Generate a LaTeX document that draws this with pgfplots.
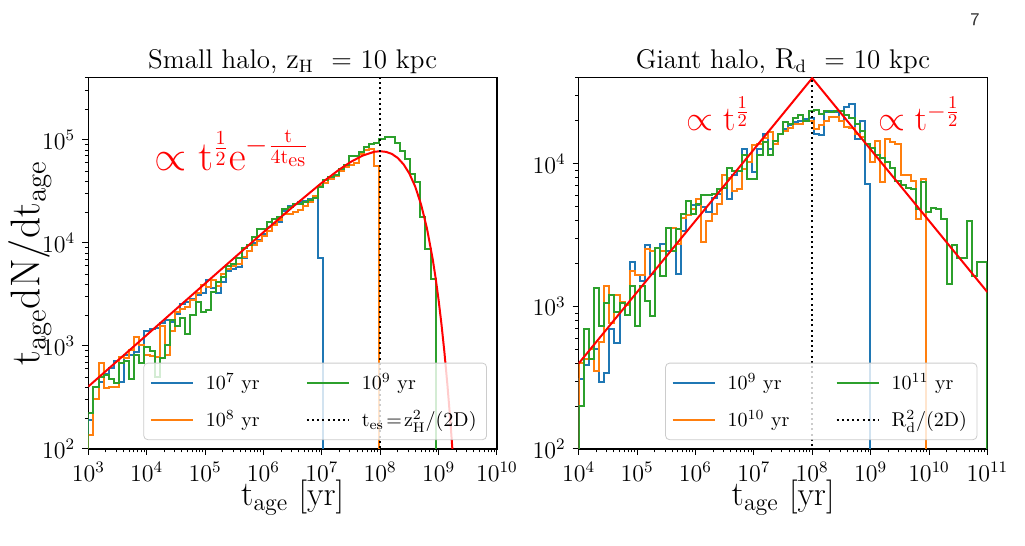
\documentclass[border=0pt]{standalone}
\usepackage{pgfplots}
\pgfplotsset{compat=1.18}
\usepackage{pgfplotstable}
\definecolor{tabblue}{HTML}{1F77B4}
\definecolor{taborange}{HTML}{FF7F0E}
\definecolor{tabgreen}{HTML}{2CA02C}

% all values are log10(t_age/yr) and log10(t_age dN/dt_age)
\pgfplotstableread{
x y
3.0 1
3.0 2.28
3.0875 2.60
3.175 2.65
3.2625 2.73
3.35 2.79
3.4375 2.85
3.525 2.65
3.6125 2.91
3.7 2.91
3.7875 2.94
3.875 3.01
3.9625 3.15
4.05 3.16
4.1375 3.17
4.225 3.22
4.3125 3.25
4.4 3.23
4.4875 3.31
4.575 3.41
4.6625 3.43
4.75 3.46
4.8375 3.49
4.925 3.51
5.0125 3.64
5.1 3.56
5.1875 3.51
5.275 3.62
5.3625 3.73
5.45 3.75
5.5375 3.77
5.625 3.85
5.7125 3.92
5.8 4.00
5.8875 4.03
5.975 4.09
6.0625 4.15
6.15 4.18
6.2375 4.20
6.325 4.31
6.4125 4.36
6.5 4.38
6.5875 4.40
6.675 4.41
6.7625 4.43
6.85 4.44
6.9375 3.85
7.025 3.85
7.025 1
}\lblue

\pgfplotstableread{
x y
3.0 1
3.0 2.14
3.0875 2.49
3.175 2.83
3.2625 2.59
3.35 2.60
3.4375 2.60
3.525 2.89
3.6125 2.88
3.7 2.96
3.7875 3.09
3.875 3.01
3.9625 2.91
4.05 2.90
4.1375 2.89
4.225 3.19
4.3125 2.91
4.4 3.15
4.4875 3.33
4.575 3.36
4.6625 3.38
4.75 3.45
4.8375 3.51
4.925 3.59
5.0125 3.57
5.1 3.64
5.1875 3.58
5.275 3.70
5.3625 3.75
5.45 3.78
5.5375 3.80
5.625 3.86
5.7125 3.92
5.8 3.98
5.8875 4.02
5.975 4.07
6.0625 4.12
6.15 4.17
6.2375 4.22
6.325 4.28
6.4125 4.28
6.5 4.30
6.5875 4.32
6.675 4.36
6.7625 4.40
6.85 4.46
6.9375 4.55
7.025 4.58
7.1125 4.62
7.2 4.65
7.2875 4.70
7.375 4.74
7.4625 4.76
7.55 4.78
7.6375 4.86
7.725 4.90
7.8125 4.91
7.9 4.75
7.9875 4.75
7.9875 1
}\lorange

\pgfplotstableread{
x y
3.0 1
3.0 2.35
3.0875 2.60
3.175 2.70
3.2625 2.72
3.35 2.68
3.4375 2.64
3.525 2.83
3.6125 2.85
3.7 2.68
3.7875 2.91
3.875 2.83
3.9625 2.99
4.05 2.95
4.1375 2.70
4.225 2.88
4.3125 3.01
4.4 3.25
4.4875 3.19
4.575 3.27
4.6625 3.12
4.75 3.30
4.8375 3.43
4.925 3.33
5.0125 3.35
5.1 3.52
5.1875 3.62
5.275 3.67
5.3625 3.78
5.45 3.80
5.5375 3.85
5.625 3.95
5.7125 3.98
5.8 4.06
5.8875 4.14
5.975 4.14
6.0625 4.20
6.15 4.23
6.2375 4.25
6.325 4.33
6.4125 4.35
6.5 4.38
6.5875 4.38
6.675 4.40
6.7625 4.42
6.85 4.44
6.9375 4.54
7.025 4.61
7.1125 4.64
7.2 4.66
7.2875 4.72
7.375 4.76
7.4625 4.84
7.55 4.84
7.6375 4.88
7.725 4.93
7.8125 4.96
7.9 4.97
7.9875 5.01
8.075 5.03
8.1625 5.03
8.25 4.97
8.3375 4.89
8.425 4.81
8.5125 4.67
8.6 4.59
8.6875 4.25
8.775 3.94
8.8625 3.65
8.95 3.65
8.95 1
}\lgreen

\pgfplotstableread{
x y
3.0 2.606
4.0 3.106
5.0 3.606
6.0 4.104
6.5 4.349
7.0 4.584
7.3 4.713
7.5 4.788
7.7 4.848
7.9 4.885
8.0 4.890
8.1 4.884
8.2 4.864
8.3 4.825
8.4 4.763
8.5 4.673
8.6 4.546
8.7 4.373
8.8 4.143
8.9 3.840
8.95 3.656
9.0 3.446
9.05 3.207
9.1 2.937
9.15 2.629
9.2 2.283
9.25 1.890
}\lred

\pgfplotstableread{
x y
4.0 1
4.0 2.49
4.0875 2.59
4.175 2.70
4.2625 2.70
4.35 2.47
4.4375 2.53
4.525 2.84
4.6125 2.74
4.7 3.02
4.7875 3.01
4.875 3.31
4.9625 3.22
5.05 3.18
5.1375 3.43
5.225 3.23
5.3125 3.41
5.4 3.44
5.4875 3.39
5.575 3.55
5.6625 3.23
5.75 3.53
5.8375 3.64
5.925 3.71
6.0125 3.71
6.1 3.70
6.1875 3.66
6.275 3.76
6.3625 3.79
6.45 3.92
6.5375 3.75
6.625 3.92
6.7125 3.95
6.8 4.10
6.8875 4.01
6.975 3.94
7.0625 4.10
7.15 4.21
7.2375 4.10
7.325 4.16
7.4125 4.21
7.5 4.24
7.5875 4.27
7.675 4.29
7.7625 4.30
7.85 4.31
7.9375 4.32
8.025 4.21
8.1125 4.20
8.2 4.36
8.2875 4.37
8.375 4.36
8.4625 4.30
8.55 4.40
8.6375 4.42
8.725 4.17
8.8125 4.30
8.9 3.86
8.9875 3.86
8.9875 1
}\rblue

\pgfplotstableread{
x y
4.0 1
4.0 2.60
4.0875 2.63
4.175 2.70
4.2625 2.55
4.35 2.75
4.4375 3.14
4.525 2.88
4.6125 3.08
4.7 3.03
4.7875 3.01
4.875 3.25
4.9625 3.22
5.05 3.22
5.1375 3.40
5.225 3.39
5.3125 3.41
5.4 3.39
5.4875 3.55
5.575 3.55
5.6625 3.44
5.75 3.62
5.8375 3.64
5.925 3.68
6.0125 3.75
6.1 3.45
6.1875 3.60
6.275 3.65
6.3625 3.72
6.45 3.92
6.5375 3.90
6.625 3.81
6.7125 3.82
6.8 3.96
6.8875 4.01
6.975 4.13
7.0625 4.14
7.15 4.18
7.2375 4.22
7.325 4.14
7.4125 4.21
7.5 4.23
7.5875 4.25
7.675 4.28
7.7625 4.28
7.85 4.30
7.9375 4.30
8.025 4.24
8.1125 4.27
8.2 4.30
8.2875 4.33
8.375 4.33
8.4625 4.30
8.55 4.26
8.6375 4.25
8.725 4.21
8.8125 4.19
8.9 4.14
8.9875 4.01
9.075 4.16
9.1625 3.87
9.25 4.17
9.3375 4.15
9.425 4.14
9.5125 3.92
9.6 3.92
9.6875 3.88
9.775 3.61
9.8625 3.89
9.95 3.89
9.95 1
}\rorange

\pgfplotstableread{
x y
4.0 1
4.0 2.30
4.0875 2.84
4.175 2.63
4.2625 3.13
4.35 2.86
4.4375 3.02
4.525 3.08
4.6125 2.96
4.7 3.02
4.7875 2.94
4.875 3.14
4.9625 2.86
5.05 3.14
5.1375 3.04
5.225 2.93
5.3125 3.41
5.4 3.21
5.4875 3.55
5.575 3.39
5.6625 3.54
5.75 3.65
5.8375 3.74
5.925 3.65
6.0125 3.72
6.1 3.78
6.1875 3.78
6.275 3.79
6.3625 3.82
6.45 3.83
6.5375 3.97
6.625 3.95
6.7125 3.95
6.8 4.06
6.8875 3.89
6.975 3.89
7.0625 4.06
7.15 4.15
7.2375 4.06
7.325 4.16
7.4125 4.21
7.5 4.29
7.5875 4.28
7.675 4.32
7.7625 4.34
7.85 4.30
7.9375 4.37
8.025 4.38
8.1125 4.35
8.2 4.37
8.2875 4.36
8.375 4.37
8.4625 4.37
8.55 4.34
8.6375 4.32
8.725 4.28
8.8125 4.23
8.9 4.14
8.9875 4.11
9.075 4.06
9.1625 4.04
9.25 4.01
9.3375 3.97
9.425 3.88
9.5125 3.85
9.6 3.83
9.6875 3.82
9.775 3.68
9.8625 3.87
9.95 3.66
10.0375 3.69
10.125 3.68
10.2125 3.61
10.3 3.16
10.3875 3.43
10.475 3.34
10.5625 3.34
10.65 3.60
10.7375 3.21
10.825 3.31
10.9125 3.31
11.0 3.31
11.0 1
}\rgreen

\pgfplotstableread{
x y
4.0 2.6
8.0 4.6
11.0 3.1
}\rred

\pgfplotsset{
  base/.style={
    scale only axis, width=204.35pt, height=185.65pt,
    axis line style={line width=0.6pt},
    tick align=outside, tick pos=left,
    major tick length=3pt, minor tick length=1.75pt,
    major tick style={black, line width=0.5pt},
    minor tick style={black, line width=0.4pt},
    ticklabel style={font=\fontsize{12}{13}\selectfont},
    every axis title shift=0pt,
    title style={font=\fontsize{13.5}{15}\selectfont, at={(axis description cs:0.5,1.026)}, anchor=base},
    xlabel style={font=\fontsize{17}{19}\selectfont, at={(axis description cs:0.5,-0.131)}, anchor=center},
    ylabel style={font=\fontsize{21}{23}\selectfont},
    legend columns=2,
    legend cell align=left,
    legend image code/.code={\draw[##1] (0pt,0pt) -- (21pt,0pt); \path (25pt,0pt);},
    legend style={font=\fontsize{10}{11}\selectfont, draw=black!20, fill=white, fill opacity=0.8, draw opacity=1, text opacity=1,
      rounded corners=2pt, inner xsep=3pt, inner ysep=3pt, row sep=5pt,
      /tikz/every even column/.append style={column sep=21pt},
      at={(axis description cs:0.9755,0.024)}, anchor=south east},
  },
  hist/.style={const plot mark left, no markers, line width=1pt, forget plot},
}

\begin{document}
\begin{tikzpicture}
\useasboundingbox (0,0) rectangle (512.5pt,273pt);
\begin{axis}[base, at={(44.15pt,48.5pt)}, anchor=south west,
  xmin=3, xmax=10, ymin=2, ymax=5.604,
  xtick={3,4,5,6,7,8,9,10},
  xticklabels={$10^{3}$,$10^{4}$,$10^{5}$,$10^{6}$,$10^{7}$,$10^{8}$,$10^{9}$,$10^{10}$},
  ytick={2,3,4,5},
  yticklabels={$10^{2}$,$10^{3}$,$10^{4}$,$10^{5}$},
  minor xtick={3.301,3.477,3.602,3.699,3.778,3.845,3.903,3.954,
    4.301,4.477,4.602,4.699,4.778,4.845,4.903,4.954,
    5.301,5.477,5.602,5.699,5.778,5.845,5.903,5.954,
    6.301,6.477,6.602,6.699,6.778,6.845,6.903,6.954,
    7.301,7.477,7.602,7.699,7.778,7.845,7.903,7.954,
    8.301,8.477,8.602,8.699,8.778,8.845,8.903,8.954,
    9.301,9.477,9.602,9.699,9.778,9.845,9.903,9.954},
  minor ytick={2.301,2.477,2.602,2.699,2.778,2.845,2.903,2.954,
    3.301,3.477,3.602,3.699,3.778,3.845,3.903,3.954,
    4.301,4.477,4.602,4.699,4.778,4.845,4.903,4.954,
    5.301,5.477,5.602},
  title={Small halo, $\mathrm{z_H}$\ \ = 10 kpc},
  xlabel={$\mathrm{t_{age}}$ [yr]},
  ylabel={$\mathrm{t_{age}dN/dt_{age}}$},
  ylabel style={at={(axis description cs:-0.143,0.5)}, anchor=center},
]
\addplot[hist, tabblue] table {\lblue};
\addplot[hist, taborange] table {\lorange};
\addplot[hist, tabgreen] table {\lgreen};
\addplot[red, line width=1pt, forget plot] table {\lred};
\addplot[black, line width=1pt, dash pattern=on 1pt off 1.6pt, forget plot] coordinates {(8,1) (8,6)};
\addlegendimage{tabblue, line width=1pt}\addlegendentry{$10^{7}$ yr}
\addlegendimage{tabgreen, line width=1pt}\addlegendentry{$10^{9}$ yr}
\addlegendimage{taborange, line width=1pt}\addlegendentry{$10^{8}$ yr}
\addlegendimage{black, line width=1pt, dash pattern=on 1pt off 1.6pt}\addlegendentry{$\mathrm{t_{es}}\mskip2mu{=}\mskip2mu\mathrm{z_H^2/(2D)}$}
\node[anchor=base west, inner sep=0pt, text=red, font=\fontsize{19.5}{21}\selectfont] at (axis cs:4.13,4.70)
  {$\propto \mathrm{t}^{\frac{1}{2}}\mathrm{e}^{-\frac{\mathrm{t}}{4\mathrm{t}_{\mathrm{es}}}}$};
\end{axis}

\begin{axis}[base, at={(289.35pt,48.5pt)}, anchor=south west,
  xmin=4, xmax=11, ymin=2, ymax=4.603,
  xtick={4,5,6,7,8,9,10,11},
  xticklabels={$10^{4}$,$10^{5}$,$10^{6}$,$10^{7}$,$10^{8}$,$10^{9}$,$10^{10}$,$10^{11}$},
  ytick={2,3,4},
  yticklabels={$10^{2}$,$10^{3}$,$10^{4}$},
  minor xtick={4.301,4.477,4.602,4.699,4.778,4.845,4.903,4.954,
    5.301,5.477,5.602,5.699,5.778,5.845,5.903,5.954,
    6.301,6.477,6.602,6.699,6.778,6.845,6.903,6.954,
    7.301,7.477,7.602,7.699,7.778,7.845,7.903,7.954,
    8.301,8.477,8.602,8.699,8.778,8.845,8.903,8.954,
    9.301,9.477,9.602,9.699,9.778,9.845,9.903,9.954,
    10.301,10.477,10.602,10.699,10.778,10.845,10.903,10.954},
  minor ytick={2.301,2.477,2.602,2.699,2.778,2.845,2.903,2.954,
    3.301,3.477,3.602,3.699,3.778,3.845,3.903,3.954,
    4.301,4.477,4.602},
  title={Giant halo, $\mathrm{R_d}$\ \ = 10 kpc},
  xlabel={$\mathrm{t_{age}}$ [yr]},
]
\addplot[hist, tabblue] table {\rblue};
\addplot[hist, taborange] table {\rorange};
\addplot[hist, tabgreen] table {\rgreen};
\addplot[red, line width=1pt, forget plot] table {\rred};
\addplot[black, line width=1pt, dash pattern=on 1pt off 1.6pt, forget plot] coordinates {(8,1) (8,6)};
\addlegendimage{tabblue, line width=1pt}\addlegendentry{$10^{9}$ yr}
\addlegendimage{tabgreen, line width=1pt}\addlegendentry{$10^{11}$ yr}
\addlegendimage{taborange, line width=1pt}\addlegendentry{$10^{10}$ yr}
\addlegendimage{black, line width=1pt, dash pattern=on 1pt off 1.6pt}\addlegendentry{$\mathrm{R_d^2/(2D)}$}
\node[anchor=base west, inner sep=0pt, text=red, font=\fontsize{18.5}{20}\selectfont] at (axis cs:5.84,4.23)
  {$\propto \mathrm{t}^{\frac{1}{2}}$};
\node[anchor=base west, inner sep=0pt, text=red, font=\fontsize{18.5}{20}\selectfont] at (axis cs:9.125,4.23)
  {$\propto \mathrm{t}^{-\frac{1}{2}}$};
\end{axis}
\node[font=\sffamily\fontsize{9}{10}\selectfont, text=black!80] at (487.5pt,263pt) {7};
\end{tikzpicture}
\end{document}
